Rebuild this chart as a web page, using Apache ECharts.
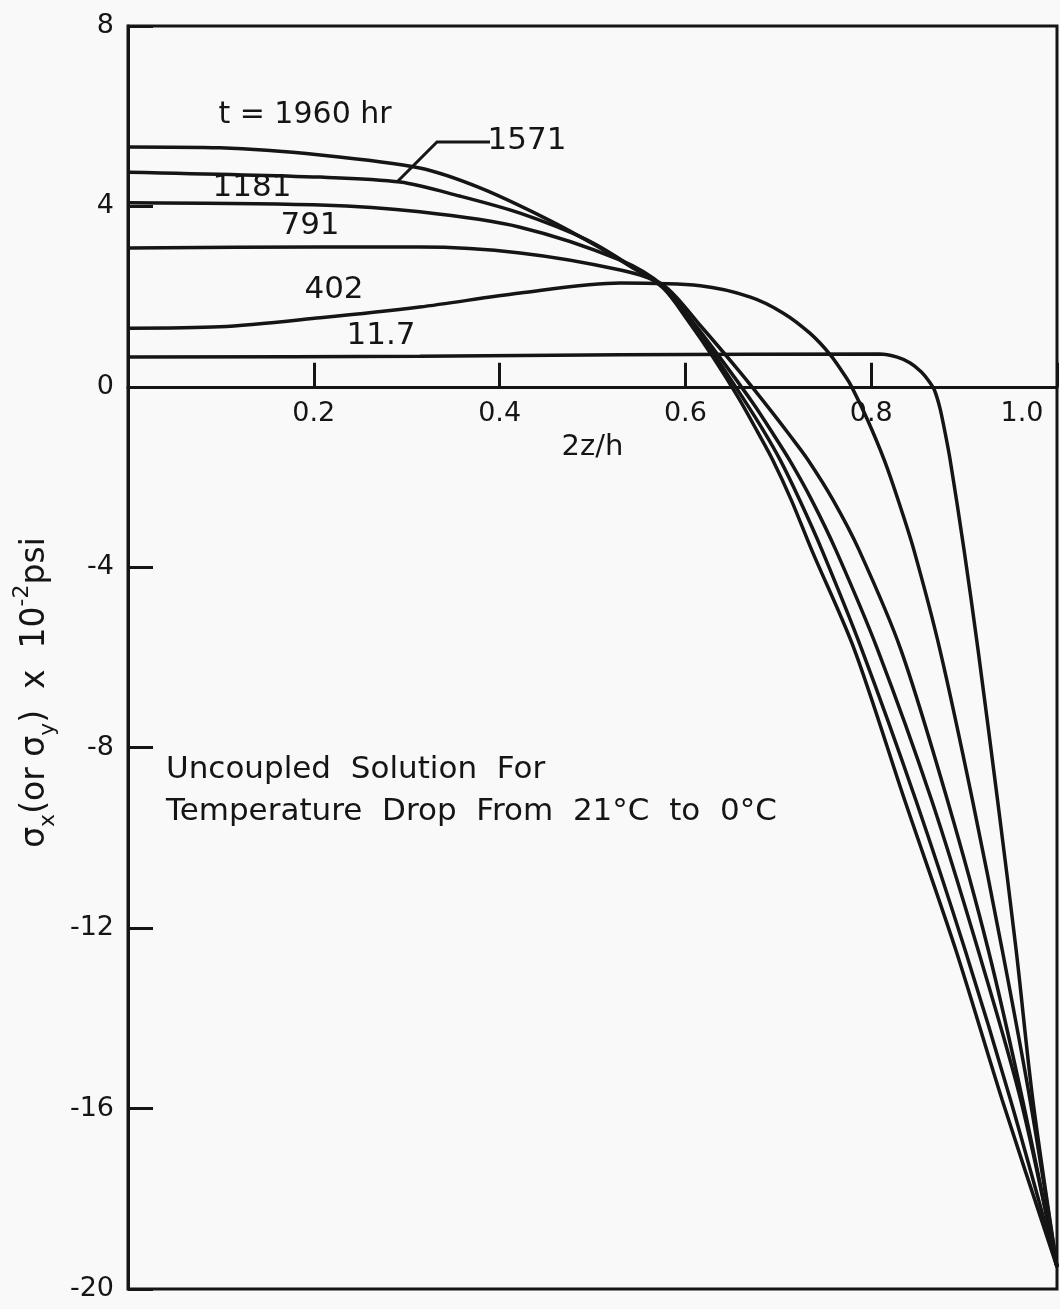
<!DOCTYPE html>
<html><head><meta charset="utf-8">
<script src="https://cdn.jsdelivr.net/npm/echarts@6/dist/echarts.min.js"></script>
<style>html,body{margin:0;padding:0;background:#f9f9f9}#c{width:1060px;height:1309px}</style>
</head><body><div id="c"></div>
<script>
// ---- data (x = 2z/h, y = sigma x 10^-2 psi) ----
const xTickLabels = ['0.2', '0.4', '0.6', '0.8', '1.0'];
const yTickLabels = ['-20', '-16', '-12', '-8', '-4', '0', '4', '8'];
const curveNames = ['1960', '1571', '1181', '791', '402', '11.7'];

const t1960 = [[0,5.32],[0.099,5.30],[0.207,5.14],[0.314,4.85],[0.379,4.41],[0.451,3.72],[0.505,3.12],[0.540,2.68],[0.576,2.19],[0.603,1.46],[0.630,0.65],[0.657,-0.24],[0.678,-1.01],[0.694,-1.62],[0.714,-2.51],[0.736,-3.62],[0.782,-5.83],[0.836,-9.16],[0.891,-12.48],[0.941,-15.81],[1.0,-19.51]];
const t1571 = [[0,4.76],[0.207,4.65],[0.293,4.54],[0.357,4.23],[0.422,3.85],[0.494,3.26],[0.540,2.70],[0.576,2.21],[0.605,1.46],[0.634,0.62],[0.662,-0.25],[0.684,-0.97],[0.702,-1.62],[0.723,-2.51],[0.747,-3.62],[0.790,-5.83],[0.848,-9.16],[0.901,-12.48],[0.950,-15.81],[1.0,-19.51]];
const t1181 = [[0,4.08],[0.207,4.03],[0.314,3.88],[0.422,3.54],[0.530,2.81],[0.576,2.24],[0.608,1.44],[0.640,0.57],[0.673,-0.37],[0.694,-1.03],[0.712,-1.62],[0.736,-2.51],[0.762,-3.62],[0.807,-5.83],[0.865,-9.16],[0.915,-12.48],[0.961,-15.81],[1.0,-19.51]];
const t791  = [[0,3.08],[0.207,3.10],[0.314,3.10],[0.422,2.97],[0.530,2.59],[0.576,2.26],[0.616,1.36],[0.659,0.32],[0.689,-0.45],[0.713,-1.09],[0.732,-1.62],[0.759,-2.51],[0.787,-3.62],[0.832,-5.83],[0.882,-9.16],[0.926,-12.48],[0.963,-15.81],[1.0,-19.51]];
const t402  = [[0,1.30],[0.099,1.33],[0.207,1.53],[0.314,1.77],[0.422,2.08],[0.530,2.30],[0.616,2.24],[0.670,1.99],[0.705,1.64],[0.734,1.19],[0.756,0.71],[0.772,0.24],[0.779,0.0],[0.796,-0.73],[0.814,-1.62],[0.829,-2.51],[0.846,-3.62],[0.874,-5.83],[0.909,-9.16],[0.941,-12.48],[0.971,-15.81],[1.0,-19.51]];
const t11_7 = [[0,0.66],[0.314,0.68],[0.530,0.71],[0.809,0.73],[0.828,0.66],[0.842,0.53],[0.854,0.33],[0.862,0.13],[0.868,-0.07],[0.874,-0.47],[0.879,-0.96],[0.885,-1.62],[0.900,-3.62],[0.915,-5.83],[0.936,-9.16],[0.956,-12.48],[0.974,-15.81],[1.0,-19.51]];
const curves = [t1960, t1571, t1181, t791, t402, t11_7];

const FONT = 'DejaVu Sans';
const INK = '#151515';
const G = {left: 128, top: 26, right: 3, bottom: 20};
const Y_MIN = -20, Y_MAX = 8;
const plotH = 1309 - G.top - G.bottom;
const zeroOffset = -plotH * (0 - Y_MIN) / (Y_MAX - Y_MIN); // move x axis up to y = 0

const chart = echarts.init(document.getElementById('c'), null, {renderer: 'canvas'});
const option = {
  backgroundColor: '#f9f9f9',
  animation: false,
  grid: Object.assign({show: true, borderColor: INK, borderWidth: 3, backgroundColor: 'transparent', containLabel: false, outerBoundsMode: 'none'}, G),
  xAxis: {
    type: 'value', min: 0, max: 1, interval: 0.2,
    position: 'bottom', offset: zeroOffset,
    axisLine: {onZero: false, lineStyle: {color: INK, width: 3}},
    axisTick: {inside: true, length: 24, lineStyle: {color: INK, width: 3}},
    splitLine: {show: false},
    axisLabel: {
      showMinLabel: false, showMaxLabel: true, margin: 14,
      fontFamily: FONT, fontSize: 27, color: INK,
      formatter: function (v) {
        const i = Math.round(v / 0.2) - 1;
        if (i < 0) return '';
        if (i === xTickLabels.length - 1) return '{r|' + xTickLabels[i] + '}';
        return xTickLabels[i];
      },
      rich: {r: {fontFamily: FONT, fontSize: 27, color: INK, padding: [0, 70, 0, 0]}}
    },
    name: '2z/h', nameLocation: 'middle', nameGap: 40,
    nameTextStyle: {fontFamily: FONT, fontSize: 29, color: INK}
  },
  yAxis: {
    type: 'value', min: Y_MIN, max: Y_MAX, interval: 4,
    axisLine: {show: true, onZero: false, lineStyle: {color: INK, width: 3}},
    axisTick: {show: true, inside: true, length: 25, lineStyle: {color: INK, width: 3}},
    splitLine: {show: false},
    axisLabel: {
      margin: 14, fontFamily: FONT, fontSize: 27, color: INK,
      formatter: function (v) { return yTickLabels[Math.round((v - Y_MIN) / 4)]; }
    },
    name: '{s|σ}{sub|x}{s|(or σ}{sub|y}{s|)  x  10}{sup|-2}{s|psi}',
    nameLocation: 'middle', nameGap: 58,
    nameTextStyle: {
      fontFamily: FONT, fontSize: 33, color: INK, padding: [0, 70, 0, 0],
      rich: {
        s: {fontFamily: FONT, fontSize: 33, color: INK, lineHeight: 48, verticalAlign: 'middle'},
        sub: {fontFamily: FONT, fontSize: 22, color: INK, lineHeight: 48, verticalAlign: 'bottom'},
        sup: {fontFamily: FONT, fontSize: 22, color: INK, lineHeight: 48, verticalAlign: 'top'}
      }
    }
  },
  series: curves.map(function (d, i) {
    return {
      name: curveNames[i], type: 'line', data: d, smooth: 0.3,
      showSymbol: false, symbol: 'none',
      lineStyle: {color: INK, width: 3.5}, z: 3
    };
  }),
  graphic: [
    {type: 'text', x: 305, y: 115, style: {text: 't = 1960 hr', font: '30px "DejaVu Sans"', fill: INK, align: 'center', verticalAlign: 'middle'}},
    {type: 'text', x: 527, y: 141, style: {text: '1571', font: '31px "DejaVu Sans"', fill: INK, align: 'center', verticalAlign: 'middle'}},
    {type: 'polyline', shape: {points: [[490, 142], [437, 142], [398, 181]]}, style: {stroke: INK, lineWidth: 3, fill: null}},
    {type: 'text', x: 252, y: 188, style: {text: '1181', font: '31px "DejaVu Sans"', fill: INK, align: 'center', verticalAlign: 'middle'}},
    {type: 'text', x: 310, y: 226, style: {text: '791', font: '31px "DejaVu Sans"', fill: INK, align: 'center', verticalAlign: 'middle'}},
    {type: 'text', x: 334, y: 290, style: {text: '402', font: '31px "DejaVu Sans"', fill: INK, align: 'center', verticalAlign: 'middle'}},
    {type: 'text', x: 381, y: 336, style: {text: '11.7', font: '31px "DejaVu Sans"', fill: INK, align: 'center', verticalAlign: 'middle'}},
    {type: 'text', x: 166, y: 770, style: {text: 'Uncoupled  Solution  For', font: '31px "DejaVu Sans"', fill: INK, align: 'left', verticalAlign: 'middle'}},
    {type: 'text', x: 166, y: 812, style: {text: 'Temperature  Drop  From  21°C  to  0°C', font: '31px "DejaVu Sans"', fill: INK, align: 'left', verticalAlign: 'middle'}}
  ]
};
chart.setOption(option);
</script>
</body></html>
